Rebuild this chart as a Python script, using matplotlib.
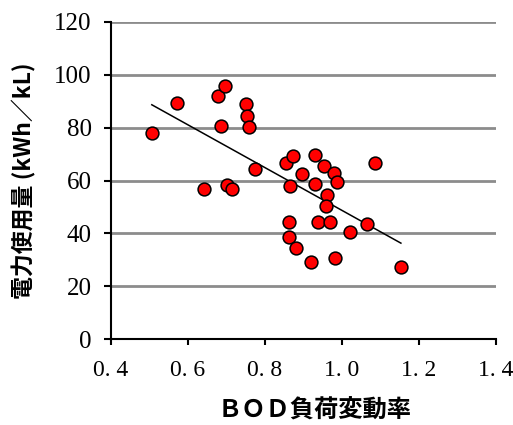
import matplotlib
matplotlib.use("Agg")
import matplotlib.pyplot as plt
import numpy as np

# BOD負荷変動率 vs 電力使用量
bod_rate = [0.506, 0.571, 0.677, 0.696, 0.686, 0.750, 0.753, 0.758, 0.774,
            0.642, 0.700, 0.714, 0.855, 0.874, 0.865, 0.930, 0.952, 0.979,
            0.987, 0.895, 0.930, 1.087, 0.961, 0.959, 0.862, 0.937, 0.970,
            1.066, 1.020, 0.862, 0.881, 0.919, 0.982, 1.153]
power = [78.0, 89.2, 92.0, 95.8, 80.8, 89.1, 84.4, 80.4, 64.4,
         56.8, 58.4, 56.8, 66.7, 69.2, 58.1, 69.7, 65.4, 62.9,
         59.6, 62.3, 58.5, 66.5, 54.6, 50.5, 44.4, 44.4, 44.3,
         43.6, 40.6, 38.7, 34.3, 29.2, 30.6, 27.2]

x_ticks = [0.4, 0.6, 0.8, 1.0, 1.2, 1.4]
x_tick_labels = ["0. 4", "0. 6", "0. 8", "1. 0", "1. 2", "1. 4"]
y_ticks = [0, 20, 40, 60, 80, 100, 120]

x_label = "ＢＯＤ負荷変動率"
y_label = "電力使用量 (kWh／kL)"

plt.rcParams['font.family'] = ['Liberation Serif', 'Noto Sans CJK JP']

fig = plt.figure(figsize=(5.13, 4.25), dpi=100)
ax = fig.add_axes([111/513, 1-339/425, 385/513, 317/425])

# 近似直線
xs = np.array(bod_rate)
ys = np.array(power)
a, b = np.polyfit(xs, ys, 1)
lx = np.array([xs.min(), xs.max()])
ax.plot(lx, a*lx + b, color='black', lw=1.1, zorder=3)

ax.scatter(bod_rate, power, s=85, c='#ff0000', edgecolors='black',
           linewidths=1.1, zorder=4)

ax.set_xlim(0.4, 1.4)
ax.set_ylim(0, 120)
ax.set_xticks(x_ticks)
ax.set_xticklabels(x_tick_labels)
ax.set_yticks(y_ticks)
ax.yaxis.grid(True, color='#8c8c8c', lw=2)
ax.set_axisbelow(True)

for s in ['top', 'right']:
    ax.spines[s].set_visible(False)
for s in ['left', 'bottom']:
    ax.spines[s].set_linewidth(1.5)
    ax.spines[s].set_zorder(5)

ax.tick_params(axis='y', direction='out', length=5, width=1.5,
               labelsize=18, pad=9)
ax.tick_params(axis='x', direction='out', length=4, width=1.5,
               labelsize=17, pad=11)

ax.set_xlabel(x_label, family=['Noto Sans CJK JP'], fontsize=17.5,
              fontweight='bold', va='center')
ax.xaxis.set_label_coords(0.53, -0.227)
ax.set_ylabel(y_label, family=['Noto Sans CJK JP'], fontsize=16.5,
              fontweight='bold', va='center')
ax.yaxis.set_label_coords(-0.226, 0.5)

fig.savefig("out.png", dpi=100)
